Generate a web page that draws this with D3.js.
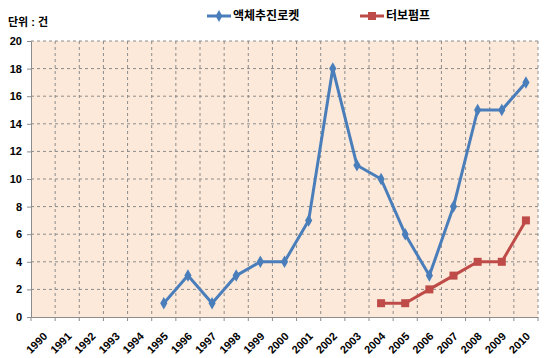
<!DOCTYPE html>
<html><head><meta charset="utf-8">
<script src="https://cdn.jsdelivr.net/npm/d3@7"></script>
<style>body{margin:0;background:#fff}text{font-family:Arial,"Liberation Sans","Noto Sans CJK KR",sans-serif;}</style>
</head><body>
<svg id="c" width="550" height="358"></svg>
<script>
const years = ["1990","1991","1992","1993","1994","1995","1996","1997","1998","1999","2000","2001","2002","2003","2004","2005","2006","2007","2008","2009","2010"];
const liquidYears = ["1995","1996","1997","1998","1999","2000","2001","2002","2003","2004","2005","2006","2007","2008","2009","2010"];
const liquidValues = [1,3,1,3,4,4,7,18,11,10,6,3,8,15,15,17];
const pumpYears = ["2004","2005","2006","2007","2008","2009","2010"];
const pumpValues = [1,1,2,3,4,4,7];
const yTicks = [0,2,4,6,8,10,12,14,16,18,20];
const seriesNames = ["액체추진로켓","터보펌프"];
const colors = ["#4A7EBB","#BE4B48"];

const svg = d3.select("#c");
const L=31,R=538,T=41,B=317;
const x = d3.scaleBand().domain(years).range([L,R]);
const y = d3.scaleLinear().domain([0,20]).range([B,T]);

svg.append("rect").attr("x",L).attr("y",T).attr("width",R-L).attr("height",B-T).attr("fill","#FDE9D9");

// horizontal grid
svg.append("g").selectAll("line").data(yTicks.filter(d=>d>0)).join("line")
  .attr("x1",L).attr("x2",R).attr("y1",d=>y(d)).attr("y2",d=>y(d))
  .attr("stroke","#8c8c8c").attr("stroke-width",1).attr("stroke-dasharray","3,3");
// vertical grid
svg.append("g").selectAll("line").data(d3.range(1,years.length+1)).join("line")
  .attr("x1",i=>L+i*x.step()).attr("x2",i=>L+i*x.step())
  .attr("y1",T).attr("y2",B)
  .attr("stroke","#8c8c8c").attr("stroke-width",1).attr("stroke-dasharray","3,3");

// y axis
const ya = svg.append("g").attr("transform",`translate(${L},0)`)
  .call(d3.axisLeft(y).tickValues(yTicks).tickSize(4).tickPadding(5).tickFormat(d3.format("d")));
ya.select(".domain").attr("stroke","#8c8c8c");
ya.selectAll(".tick line").attr("stroke","#8c8c8c");
ya.selectAll("text").attr("font-size","11px").attr("font-weight","bold").attr("fill","#000");

// x axis
const xa = svg.append("g").attr("transform",`translate(0,${B})`)
  .call(d3.axisBottom(x).tickSize(0).tickPadding(0));
xa.select(".domain").attr("stroke","#8c8c8c");
xa.selectAll(".tick text").attr("font-size","11px").attr("font-weight","bold").attr("fill","#000")
  .attr("text-anchor","end").attr("dy","0").attr("y",0)
  .attr("transform","translate(5,20) rotate(-45)");
// x tick marks at band boundaries
svg.append("g").selectAll("line").data(d3.range(years.length+1)).join("line")
  .attr("x1",i=>L+i*x.step()).attr("x2",i=>L+i*x.step()).attr("y1",B).attr("y2",B+4)
  .attr("stroke","#8c8c8c");

const cx = d=>x(d)+x.bandwidth()/2;
const line = d3.line().x(d=>cx(d[0])).y(d=>y(d[1]));
const liquid = liquidYears.map((d,i)=>[d,liquidValues[i]]);
const pump = pumpYears.map((d,i)=>[d,pumpValues[i]]);

svg.append("path").datum(liquid).attr("d",line).attr("fill","none").attr("stroke",colors[0]).attr("stroke-width",3).attr("stroke-linejoin","round");
svg.append("g").selectAll("path").data(liquid).join("path")
  .attr("d",d3.symbol(d3.symbolDiamond,45)).attr("transform",d=>`translate(${cx(d[0])},${y(d[1])})`).attr("fill",colors[0]);
svg.append("path").datum(pump).attr("d",line).attr("fill","none").attr("stroke",colors[1]).attr("stroke-width",3).attr("stroke-linejoin","round");
svg.append("g").selectAll("rect").data(pump).join("rect")
  .attr("x",d=>cx(d[0])-4).attr("y",d=>y(d[1])-4).attr("width",8).attr("height",8).attr("fill",colors[1]);

// unit label
svg.append("text").attr("x",8).attr("y",26).attr("font-size","11px").attr("font-weight","bold").text("단위 : 건");

// legend
const lg = [{x:207,name:seriesNames[0],c:colors[0],sym:"diamond"},{x:360,name:seriesNames[1],c:colors[1],sym:"square"}];
lg.forEach(l=>{
  svg.append("line").attr("x1",l.x).attr("x2",l.x+24).attr("y1",16).attr("y2",16).attr("stroke",l.c).attr("stroke-width",3);
  if(l.sym==="diamond") svg.append("path").attr("d",d3.symbol(d3.symbolDiamond,40)).attr("transform",`translate(${l.x+12},16)`).attr("fill",l.c);
  else svg.append("rect").attr("x",l.x+8).attr("y",12).attr("width",8).attr("height",8).attr("fill",l.c);
  svg.append("text").attr("x",l.x+26).attr("y",20).attr("font-size","12px").attr("font-weight","bold").text(l.name);
});
</script>
</body></html>
